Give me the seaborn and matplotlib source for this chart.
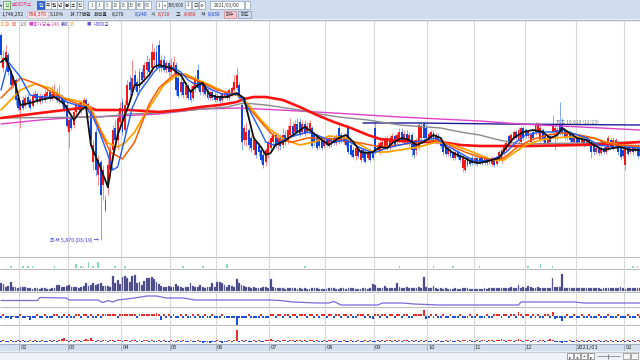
import numpy as np
import pandas as pd
import matplotlib.pyplot as plt
import seaborn as sns
from matplotlib.patches import Rectangle

# daily candles (won), Jan 2020 - Feb 2021
opens = [12020, 11030, 11210, 11420, 10910, 10520, 10670, 10130, 9770, 10070,
         9890, 10160, 10070, 9890, 10130, 10250, 10010, 10190, 10070, 10190,
         10310, 10100, 10190, 10310, 10070, 10190, 10070, 9920, 9110, 9530,
         9320, 9710, 9950, 9770, 9920, 10070, 9830, 9830, 8210, 9110,
         7820, 8210, 7520, 6770, 7430, 7970, 8570, 9230, 8870, 9410,
         10010, 9170, 9920, 10610, 10310, 10820, 10610, 10430, 10910, 10730,
         10970, 11210, 11030, 11270, 11510, 11720, 11030, 11270, 10970, 11180,
         10910, 11030, 11120, 10730, 10310, 10610, 10220, 10490, 10370, 10130,
         10430, 10970, 10610, 10310, 10550, 10370, 10130, 10310, 10220, 10070,
         10190, 10070, 10190, 10310, 10130, 10250, 10370, 10430, 10520, 9920,
         8870, 8870, 9170, 8930, 8570, 8810, 8690, 8570, 8420, 8210,
         8420, 8630, 8810, 9020, 8720, 8930, 8720, 9020, 8870, 9020,
         9290, 9110, 9350, 9410, 9110, 9350, 9110, 9170, 9230, 9020,
         8990, 8930, 8870, 8690, 8870, 8690, 8810, 8930, 8780, 9230,
         9020, 8810, 8930, 9260, 8720, 8570, 8390, 8630, 8270, 8570,
         8510, 8330, 8570, 8480, 9230, 8570, 8510, 8630, 8690, 8690,
         8630, 8810, 8990, 8810, 8870, 9110, 8870, 9050, 8810, 9020,
         8810, 8570, 8660, 8930, 9350, 9230, 8930, 8930, 9080, 8870,
         8990, 8870, 8750, 8630, 8450, 8570, 8510, 8330, 8510, 8420,
         8030, 7970, 8330, 8270, 8330, 8180, 8330, 8330, 8330, 8180,
         8330, 8210, 8150, 8270, 8150, 8270, 8270, 8510, 8570, 8990,
         8810, 8930, 9110, 8870, 8810, 9230, 9170, 8990, 8810, 9110,
         9110, 9110, 8870, 9170, 9020, 8780, 8990, 9110, 9110, 9020,
         9350, 9320, 9170, 8930, 9110, 8990, 8810, 8930, 8930, 8780,
         8900, 8750, 8870, 8810, 8690, 8510, 8630, 8480, 8630, 8510,
         8630, 8870, 8630, 8690, 8810, 8630, 8570, 8120, 8690, 8510,
         8690, 8570, 8720, 8390]
closes = [11420, 11330, 11510, 10910, 10520, 10730, 10070, 9830, 9950, 9830,
          10130, 9950, 9830, 10220, 10250, 10010, 10190, 10070, 10250, 10310,
          10100, 10250, 10310, 10070, 10220, 9980, 9770, 9290, 9470, 9230,
          9710, 9920, 9770, 10010, 10070, 9890, 9950, 8870, 8720, 7970,
          8270, 7220, 7970, 7070, 8120, 8570, 9170, 8870, 9530, 9830,
          9110, 9920, 10520, 10370, 10730, 10520, 10310, 10910, 10670, 11120,
          11210, 10910, 11510, 11510, 11030, 11030, 11270, 10970, 11180, 10910,
          11120, 11210, 10370, 10190, 10610, 10220, 10490, 10130, 10070, 10490,
          10670, 10430, 10310, 10550, 10250, 10130, 10310, 10130, 10070, 10190,
          10040, 10250, 10310, 10130, 10370, 10430, 10610, 10820, 10130, 8810,
          9230, 9110, 8720, 8630, 8870, 8420, 8510, 8270, 8120, 8570,
          8810, 8930, 9020, 8720, 8930, 8690, 9020, 8810, 9170, 9290,
          9050, 9350, 9110, 9020, 9350, 9050, 9290, 9380, 8690, 8810,
          8630, 8690, 8630, 8870, 8720, 8930, 8930, 8780, 8990, 8810,
          8840, 8960, 8720, 8510, 8420, 8360, 8630, 8390, 8570, 8330,
          8210, 8510, 8270, 8330, 8510, 8720, 8780, 8810, 8870, 8930,
          8930, 8990, 8720, 9020, 9110, 8870, 9050, 8810, 9020, 8570,
          8420, 8870, 9320, 9290, 8930, 8930, 9050, 9110, 8870, 9020,
          8810, 8690, 8510, 8450, 8630, 8390, 8330, 8510, 8360, 8270,
          8360, 8270, 8120, 8150, 8180, 8330, 8150, 8210, 8180, 8330,
          8180, 8300, 8330, 8120, 8300, 8510, 8570, 8720, 8780, 8780,
          9020, 9110, 8930, 9170, 9230, 8930, 8990, 9110, 9020, 8930,
          9320, 9320, 9230, 8870, 8780, 8990, 8810, 9350, 9230, 9170,
          9110, 9080, 8930, 9110, 8870, 8810, 8930, 8780, 8810, 8900,
          8720, 8870, 8750, 8510, 8510, 8630, 8480, 8630, 8510, 8660,
          8930, 8690, 8870, 8870, 8510, 8360, 8390, 8690, 8450, 8690,
          8510, 8720, 8390, 8570]
highs = [12080, 11570, 11720, 11510, 10970, 10820, 10730, 10220, 10070, 10190,
         10220, 10250, 10130, 10310, 10370, 10310, 10280, 10250, 10370, 10430,
         10370, 10490, 10550, 10430, 10520, 10250, 10130, 10010, 9530, 9620,
         9770, 9980, 10070, 10070, 10160, 10130, 10010, 9920, 8870, 9230,
         8420, 8270, 8120, 7220, 8270, 8720, 9320, 9470, 9710, 10010,
         10130, 10070, 10670, 10820, 11270, 10970, 10730, 11030, 11030, 11210,
         11420, 11330, 11780, 11630, 11720, 11870, 11420, 11420, 11270, 11270,
         11330, 11390, 11210, 10850, 10730, 10730, 10610, 10550, 10520, 10610,
         10820, 11150, 10670, 10670, 10610, 10430, 10370, 10370, 10310, 10280,
         10250, 10310, 10370, 10370, 10430, 10490, 10820, 11060, 10610, 10010,
         9320, 9410, 9230, 9020, 8990, 8870, 8810, 8690, 8570, 8630,
         8870, 9020, 9170, 9110, 9080, 9050, 9230, 9170, 9320, 9530,
         9410, 9470, 9530, 9530, 9470, 9470, 9410, 9470, 9290, 9110,
         9080, 9020, 8960, 8930, 8930, 8990, 9020, 9020, 9050, 9380,
         9110, 9050, 8990, 9320, 8780, 8660, 8690, 8690, 8660, 8630,
         8570, 8570, 8630, 8570, 9410, 8810, 8870, 8930, 8990, 9020,
         9020, 9080, 9050, 9110, 9230, 9230, 9170, 9170, 9110, 9110,
         8870, 8930, 9410, 9380, 9410, 9350, 9110, 9170, 9170, 9080,
         9080, 8930, 8810, 8720, 8690, 8630, 8570, 8570, 8570, 8480,
         8420, 8360, 8390, 8360, 8420, 8390, 8390, 8390, 8390, 8390,
         8390, 8360, 8390, 8360, 8360, 8570, 8630, 8780, 8870, 9050,
         9080, 9170, 9170, 9260, 9290, 9290, 9230, 9170, 9080, 9170,
         9410, 9410, 9350, 9230, 9080, 9050, 9050, 9620, 9320, 9260,
         10010, 9530, 9230, 9170, 9170, 9050, 8990, 8990, 8990, 8960,
         8960, 8930, 8930, 8870, 8750, 8690, 8690, 8690, 8690, 8720,
         9020, 8930, 8960, 8930, 8870, 8720, 8660, 8780, 8750, 8750,
         8750, 8780, 8780, 8630]
lows = [11330, 10910, 10970, 10820, 10370, 10430, 9920, 9770, 9230, 9770,
        9830, 9890, 9770, 9830, 10070, 9950, 9950, 9980, 10010, 10130,
        10040, 10070, 10130, 10010, 9950, 9890, 9710, 9230, 8630, 9170,
        9230, 9620, 9710, 9650, 9830, 9770, 9710, 8630, 7970, 7790,
        7520, 5870, 7070, 6710, 7220, 7730, 8270, 8720, 8570, 9230,
        9020, 9020, 9830, 10220, 10220, 10370, 10220, 10310, 10550, 10610,
        10850, 10790, 10910, 11120, 10970, 10910, 10910, 10910, 10880, 10790,
        10790, 10850, 10220, 10130, 10190, 10130, 10130, 10070, 10010, 10070,
        10310, 10370, 10220, 10220, 10190, 10070, 10070, 10070, 10010, 10010,
        9980, 10010, 10130, 10070, 10070, 10190, 10310, 10370, 10070, 8570,
        8720, 8690, 8570, 8510, 8420, 8330, 8390, 8180, 8030, 8090,
        8330, 8510, 8630, 8630, 8570, 8570, 8630, 8720, 8750, 8930,
        8990, 9020, 9020, 8960, 9020, 8990, 9050, 9110, 8630, 8690,
        8570, 8630, 8570, 8630, 8660, 8630, 8660, 8720, 8720, 8750,
        8780, 8750, 8660, 8450, 8360, 8330, 8270, 8330, 8210, 8270,
        8180, 8270, 8210, 8270, 8450, 8510, 8450, 8570, 8630, 8570,
        8570, 8720, 8660, 8720, 8780, 8810, 8780, 8750, 8690, 8390,
        8330, 8420, 8570, 8870, 8870, 8870, 8870, 8840, 8810, 8780,
        8750, 8630, 8420, 8390, 8390, 8330, 8270, 8270, 8300, 8210,
        7910, 7910, 8060, 8090, 8120, 8120, 8090, 8150, 8120, 8120,
        8120, 8150, 8090, 8060, 8090, 8210, 8180, 8420, 8510, 8720,
        8750, 8870, 8870, 8780, 8750, 8870, 8930, 8930, 8720, 8870,
        9020, 9050, 8810, 8810, 8720, 8690, 8750, 9050, 8570, 8870,
        9020, 9020, 8870, 8870, 8810, 8720, 8720, 8720, 8750, 8720,
        8660, 8690, 8690, 8330, 8420, 8450, 8420, 8420, 8450, 8450,
        8570, 8630, 8570, 8630, 8420, 8270, 8330, 7970, 8390, 8450,
        8420, 8510, 8330, 8330]

# volume, thousand shares
volume = [800, 700, 450, 500, 900, 380, 400, 350, 420, 380,
          400, 300, 280, 250, 300, 260, 230, 280, 300, 250,
          220, 280, 350, 620, 580, 380, 420, 460, 600, 450,
          380, 420, 350, 380, 500, 780, 520, 650, 800, 600,
          700, 820, 550, 480, 520, 420, 1500, 800, 1100, 700,
          1400, 1500, 1300, 950, 1500, 1600, 800, 900, 600, 1000,
          1300, 1300, 1400, 1200, 900, 700, 500, 450, 400, 520,
          450, 380, 700, 500, 400, 350, 380, 420, 800, 550,
          400, 380, 600, 420, 350, 380, 400, 800, 450, 900,
          950, 850, 600, 400, 600, 500, 450, 1200, 800, 650,
          500, 420, 380, 350, 400, 320, 300, 350, 450, 380,
          300, 1200, 450, 350, 300, 280, 320, 250, 300, 280,
          260, 300, 250, 280, 240, 260, 230, 250, 280, 300,
          260, 240, 230, 250, 220, 280, 300, 260, 240, 250,
          320, 280, 250, 300, 280, 260, 240, 250, 230, 260,
          300, 250, 320, 700, 600, 350, 300, 320, 500, 300,
          280, 320, 350, 800, 400, 350, 330, 380, 300, 320,
          300, 350, 400, 300, 1400, 400, 350, 300, 500, 280,
          250, 260, 240, 300, 220, 250, 230, 260, 240, 220,
          280, 300, 260, 240, 250, 230, 220, 240, 250, 260,
          230, 260, 280, 300, 260, 350, 320, 300, 280, 330,
          380, 300, 320, 600, 350, 400, 330, 500, 380, 300,
          330, 360, 300, 320, 280, 300, 350, 1300, 420, 380,
          380, 1700, 350, 300, 320, 280, 300, 320, 260, 300,
          280, 320, 350, 300, 280, 260, 300, 250, 280, 300,
          320, 280, 300, 260, 280, 400, 300, 250, 280, 300,
          280, 320, 260, 300]

# moving averages (index of day, value)
ma5_i = [0, 2, 6, 8, 12, 16, 22, 26, 30, 33, 35, 37, 41, 44, 46, 48, 51, 53, 55, 57,
         59, 61, 63, 65, 70, 74, 78, 81, 83, 86, 89, 93, 97, 100, 102, 104, 107, 109, 111, 113,
         116, 119, 122, 125, 128, 131, 135, 139, 142, 145, 148, 151, 153, 156, 159, 161, 165, 168, 171, 174,
         178, 181, 183, 186, 190, 194, 197, 202, 205, 208, 211, 215, 219, 223, 226, 229, 231, 234, 237, 241,
         244, 248, 252, 255, 259, 263]
ma5 = [11210, 11330, 10520, 9920, 9980, 10070, 10160, 9950, 9470, 9770, 9860, 8720, 8030, 7460, 8330, 9020, 9620, 10010, 10520, 10520,
       10670, 10820, 11060, 11120, 11030, 10820, 10310, 10520, 10580, 10220, 10160, 10160, 10280, 10130, 9530, 8930, 8660, 8420, 8480, 8720,
       8810, 8960, 9110, 9260, 9110, 8930, 8720, 8930, 9020, 8810, 8510, 8480, 8510, 8660, 8630, 8780, 8930, 8870, 8720, 8810,
       9020, 8930, 8660, 8480, 8360, 8210, 8180, 8270, 8330, 8660, 8930, 9110, 9170, 9110, 8930, 9020, 9230, 9080, 8930, 8870,
       8720, 8570, 8630, 8660, 8570, 8570]
ma10_i = [0, 3, 8, 12, 16, 24, 27, 31, 35, 38, 41, 44, 46, 48, 50, 52, 54, 57, 60, 63,
          65, 71, 74, 77, 79, 83, 87, 91, 95, 98, 101, 104, 107, 109, 112, 115, 118, 122, 126, 130,
          137, 142, 148, 153, 159, 164, 170, 175, 179, 183, 189, 194, 197, 202, 208, 212, 216, 222, 227, 231,
          235, 241, 246, 252, 258, 263]
ma10 = [10370, 11210, 10760, 10220, 10160, 10160, 10010, 9920, 9860, 9530, 9020, 8420, 7970, 8060, 8630, 9230, 9830, 10310, 10610, 10910,
        11060, 11030, 10910, 10670, 10580, 10520, 10370, 10250, 10250, 10220, 9920, 9530, 9110, 8810, 8720, 8810, 8930, 9020, 9110, 9020,
        8810, 8870, 8630, 8480, 8630, 8720, 8810, 8870, 8930, 8720, 8480, 8270, 8240, 8270, 8510, 8810, 9020, 9110, 9110, 9170,
        9080, 8930, 8720, 8660, 8660, 8630]
ma20_i = [0, 8, 16, 24, 33, 37, 41, 45, 50, 55, 61, 65, 71, 74, 78, 83, 89, 94, 98, 102,
          107, 111, 115, 120, 126, 131, 140, 148, 156, 164, 172, 181, 186, 192, 197, 202, 207, 212, 218, 225,
          231, 238, 244, 249, 255, 263]
ma20 = [10130, 10730, 10520, 10160, 9920, 9770, 9110, 8510, 8300, 8810, 9950, 10430, 10820, 10850, 10730, 10580, 10370, 10280, 10220, 9830,
        9410, 9080, 8870, 8810, 8930, 8930, 8870, 8780, 8660, 8720, 8810, 8870, 8660, 8480, 8360, 8270, 8330, 8630, 8870, 9020,
        9080, 9020, 8930, 8780, 8720, 8690]
ma60_i = [0, 8, 14, 20, 26, 33, 37, 41, 44, 48, 51, 55, 59, 63, 67, 72, 76, 81, 86, 92,
          98, 102, 107, 111, 117, 123, 129, 135, 142, 148, 153, 159, 164, 172, 179, 186, 192, 197, 202, 207,
          211, 216, 222, 227, 233, 238, 244, 249, 255, 263]
ma60 = [9770, 10370, 10550, 10430, 10130, 10010, 9830, 9170, 8780, 8660, 8780, 9110, 9620, 10070, 10520, 10790, 10850, 10670, 10520, 10310,
        10190, 9920, 9470, 9170, 8870, 8720, 8810, 8990, 8930, 8720, 8510, 8510, 8570, 8660, 8810, 8720, 8570, 8420, 8270, 8270,
        8480, 8720, 8870, 8930, 8960, 8960, 8930, 8810, 8720, 8660]
ma120_i = [0, 16, 33, 35, 39, 53, 65, 74, 82, 90, 97, 100, 104, 109, 116, 123, 130, 137, 144, 151,
           156, 164, 172, 181, 189, 197, 205, 218, 238, 251, 263]
ma120 = [9530, 9680, 9830, 9890, 9770, 9770, 9710, 9770, 9860, 9920, 10010, 10100, 10160, 10160, 10070, 9860, 9620, 9410, 9230, 9020,
         8900, 8840, 8810, 8810, 8720, 8690, 8690, 8690, 8720, 8750, 8810]
ma200_i = [0, 41, 53, 65, 79, 93, 100, 109, 123, 131, 139, 151, 164, 181, 189, 197, 205, 211, 216, 238, 263]
ma200 = [9530, 9560, 9650, 9680, 9770, 9860, 9980, 9920, 9770, 9650, 9560, 9470, 9320, 9230, 9110, 9020, 8870, 8780, 8750, 8780, 8810]
ma240_i = [0, 16, 33, 49, 65, 82, 98, 115, 137, 164, 197, 214, 230, 247, 263]
ma240 = [9350, 9470, 9560, 9590, 9650, 9800, 9830, 9770, 9680, 9560, 9440, 9350, 9290, 9230, 9170]
ma480_i = [149, 172, 205, 263]
ma480 = [9380, 9380, 9350, 9320]

# sub panels
signal_i = [4, 9, 11, 13, 22, 31, 33, 34, 36, 38, 40, 47, 51, 75, 83, 93, 125, 164, 178, 186, 197, 217, 222, 227, 260, 262]
signal_v = [1, 1, 1, 1, 1, 2, 1, 1, 3, 1, 3, 1, 1, 1, 1, 2, 1, 1, 1, 1, 1, 1, 2, 1, 1, 1]
ratio_i = [0, 15, 16, 27, 28, 40, 41, 42, 44, 46, 48, 55, 60, 64, 68, 75, 80, 90, 110, 115,
           120, 130, 135, 137, 140, 155, 157, 165, 170, 180, 200, 213, 214, 236, 240, 263]
ratio_v = [2.9, 2.9, 3.5, 3.4, 3.0, 3.0, 2.7, 2.5, 2.9, 2.6, 3.0, 3.4, 3.8, 3.8, 3.4, 3.4, 3.0, 3.0, 3.0, 2.9,
           2.6, 2.4, 2.4, 2.7, 2.0, 2.0, 2.4, 2.4, 2.2, 2.0, 2.0, 2.0, 2.6, 2.6, 2.4, 2.4]
net_a = [-2, 2, -2, -2, -3, -1, -2, -2, 2, -2, -2, -1, -4, -2, -2, 2, -2, -2, 2, -2,
         -2, -2, 2, 2, -2, -2, 2, -2, 2, -2, -2, 2, 2, -2, 2, 2, -2, 2, -2, -2,
         2, -2, 2, 2, 2, 2, 2, 2, -2, 2, 2, 2, 2, 2, 2, 2, -2, 2, 2, 2,
         2, 2, 2, 2, 3, 2, -4, 2, -2, 2, -2, 2, -2, -2, 2, -2, 2, -2, -2, 2,
         -2, 2, -2, -2, 2, -2, -2, 2, -2, -2, -2, 2, -2, -2, -2, -2, -2, -9, -2, -2,
         -2, -2, 2, -2, -2, -2, -2, 2, -2, -2, -2, 2, 2, -2, 2, 2, -2, 2, 2, -2,
         2, 2, -2, 2, 2, 2, -2, 2, 2, -2, 2, -2, 2, 2, -2, 2, 2, -2, 2, 2,
         -2, 2, 2, -2, 2, -2, -2, 2, 2, 2, -2, 2, -2, -3, 2, 2, -2, 2, 2, -2,
         2, 2, -2, 2, 2, -2, 2, 2, -2, -2, 2, 2, 2, 2, 6, -3, -2, 2, -2, 2,
         -2, -2, 2, -2, -2, 2, -2, -2, -2, 2, -2, -2, -2, 2, -2, -2, 2, -2, -2, -2,
         2, -2, -2, 2, 2, 2, -2, 2, 2, -2, 2, 2, -2, 4, 2, -2, 2, 2, -2, 2,
         -2, 2, -2, -2, 2, 2, -2, 4, -3, -2, -2, -5, -2, 2, -2, -2, 2, -2, -2, 2,
         -2, -2, 2, -2, -2, -2, 2, -2, -2, -2, 2, -2, -2, -2, 2, -2, -2, -2, 2, -2,
         -2, -2, 2, -2]
net_b = [-1, 1, -1, -1, 1, -1, -1, 1, -1, 1, -1, -1, 1, -1, 1, -1, -1, 1, -1, -1,
         1, -1, 1, -1, 1, 2, 3, 1, -1, 1, -1, 1, 1, -1, 1, 2, 1, 3, 1, -1,
         1, -1, 1, 1, -1, 1, 1, -1, 1, 1, -1, 1, 1, -1, 1, 1, -1, 1, -1, 1,
         1, -1, 1, -1, -1, 1, -1, 1, -1, -1, 1, -1, -1, 1, -1, 1, -1, -1, 1, -1,
         -1, 1, -1, -2, -1, -1, -2, -1, -1, 1, -1, -2, -1, -1, 1, -1, 1, 11, -1, 1,
         -1, 1, -1, -1, 1, -1, 1, -1, -1, 1, 1, 2, 1, -1, 1, -1, 1, 1, -1, 1,
         1, -1, 1, 1, -1, 1, -1, 1, 1, -1, 1, -1, -1, 1, -1, 1, 1, -1, 1, -1,
         -1, 1, -1, -1, 1, -1, -1, 1, -1, -1, 1, -1, 1, -1, -1, 1, -1, 1, -1, 1,
         1, -1, 1, -1, 1, -1, 1, 1, -1, 1, -1, 1, -1, 1, -1, 1, -1, -1, 1, -1,
         1, -1, -1, 1, -1, 1, -1, -1, 1, -1, 1, 1, -1, 1, -1, -1, 1, -1, 1, 1,
         -1, 1, 1, -1, 1, 1, 2, 1, -1, 1, 1, -1, 1, 2, 1, -1, 1, 1, -1, 1,
         1, -1, 1, 1, -1, 1, 2, 1, -1, -1, -1, -2, -1, -1, 1, -1, -1, 1, -1, 1,
         -1, -1, 1, -1, 1, -1, 1, -1, -1, 1, -1, 1, -1, 1, -1, -1, 1, -1, 1, -1,
         1, -1, 1, -1]

month_labels = ["02", "03", "04", "05", "06", "07", "08", "09", "10", "11", "12", "2021/01", "02"]
month_start = [8, 28, 50, 70, 89, 111, 134, 154, 176, 195, 216, 237, 257]

sns.set_style("white")
plt.rcParams['font.family'] = ['Noto Sans CJK KR', 'DejaVu Sans']

W, H = 640, 360
fig = plt.figure(figsize=(6.4, 3.6), dpi=100)
fig.patch.set_facecolor('white')


def rect(y0, y1, x0=0, x1=W):
    return [x0 / W, 1 - y1 / H, (x1 - x0) / W, (y1 - y0) / H]


def overlay(z):
    a = fig.add_axes([0, 0, 1, 1], zorder=z)
    a.set_xlim(0, W)
    a.set_ylim(H, 0)
    a.axis('off')
    a.patch.set_alpha(0)
    return a


bg = overlay(0)
top = overlay(20)

n = len(closes)
idx = np.arange(n)
xlim = (-0.41, 263.0)
grid_x = np.array(month_start) - 0.5


def panel(y0, y1, ylim, grid=True):
    a = fig.add_axes(rect(y0, y1), zorder=5)
    a.patch.set_alpha(0)
    if grid:
        for g in grid_x:
            a.axvline(g, color='#d8d8d8', lw=0.8, zorder=0)
    a.set_xlim(*xlim)
    a.set_ylim(*ylim)
    a.set_xticks([])
    a.set_yticks([])
    a.set_xlabel('')
    a.set_ylabel('')
    for s in a.spines.values():
        s.set_visible(False)
    return a


# ---- price panel
ax = panel(20, 257, (5360, 12470))
o = np.array(opens)
c = np.array(closes)
hi = np.maximum(np.array(highs), np.maximum(o, c))
lo = np.minimum(np.array(lows), np.minimum(o, c))
up = c >= o
ax.vlines(idx, lo, hi, colors=np.where(up, '#ff7474', '#6e98ff'), lw=0.6, zorder=2)
ax.bar(idx, np.maximum(np.abs(c - o), 30), bottom=np.minimum(o, c), width=0.8,
       color=np.where(up, '#f21818', '#1046dc'), linewidth=0, zorder=3)

lines = [(ma480_i, ma480, '#1c1c96', 1.0),
         (ma240_i, ma240, '#e040c8', 1.0),
         (ma200_i, ma200, '#8a8a8a', 1.0),
         (ma120_i, ma120, '#ff1010', 1.9),
         (ma60_i, ma60, '#ffa200', 1.3),
         (ma20_i, ma20, '#ff5a00', 1.1),
         (ma10_i, ma10, '#1e5cff', 1.0),
         (ma5_i, ma5, '#101010', 1.3)]
for xi, yv, col, lw in lines:
    sns.lineplot(x=xi, y=yv, ax=ax, color=col, linewidth=lw, legend=False, zorder=4)
ax.set_xlim(*xlim)
ax.set_ylim(5360, 12470)
ax.set_xlabel('')
ax.set_ylabel('')

ax.text(40.2, 5870, "최저 5,870 (03/19) →", ha='right', va='center', fontsize=3.8, color='#3535e6', zorder=6)
ax.text(228.5, 9410, "최고 10,010 (12/23)", ha='left', va='center', fontsize=3.5, color='#6d6d6d', zorder=6)

# ---- signal bars
axa = panel(257, 269, (-0.5, 5.5))
axa.bar(signal_i, signal_v, width=0.7, color='#84d9b6', linewidth=0)

# ---- volume
axb = panel(269, 292, (-100, 2200))
axb.bar(idx, volume, width=0.75, color='#3f3f7e', edgecolor='#8585bd', linewidth=0.25)

# ---- ratio line
axc = panel(292, 307, (1.6, 4.6))
sns.lineplot(x=ratio_i, y=ratio_v, ax=axc, color='#7b69d8', linewidth=0.9, legend=False)
axc.set_xlim(*xlim)
axc.set_ylim(1.6, 4.6)
axc.set_xlabel('')
axc.set_ylabel('')

# ---- net buying histograms
for vals, (y0, y1), yl in [(net_a, (307, 325), (-9, 9)), (net_b, (325, 344), (-3, 16))]:
    a = panel(y0, y1, yl)
    v = np.array(vals)
    a.bar(idx, v, width=0.8, color=np.where(v > 0, '#ea2a2a', '#1f4de0'), linewidth=0)

# ---- separators and bottom bands
bg.add_patch(Rectangle((0, 20), W, 324, facecolor='white', lw=0))
bg.hlines([257, 269, 292, 307, 325], 0, W, color='#bdbdbd', lw=0.8)
bg.add_patch(Rectangle((0, 344), W, 7, facecolor='#d4e0f0', lw=0))
bg.hlines([344], 0, W, color='#a6b2c3', lw=0.8)
bg.add_patch(Rectangle((0, 351), W, 9, facecolor='#eef1f5', lw=0))
bg.hlines([351.5], 0, W, color='#c4c9d2', lw=0.8)

axx = panel(344, 351, (0, 1), grid=False)
axx.vlines(grid_x, 0, 1, color='#a5b2c5', lw=0.7)
for m, lab in zip(month_start, month_labels):
    axx.text(m, 0.45, lab, ha='left', va='center', fontsize=4.2, color='#333333')

# bottom right controls
for bx, sym in zip([567, 574, 581, 588], ['▸', '◂', '▪', '▸']):
    top.add_patch(Rectangle((bx, 353), 6, 6, facecolor='white', edgecolor='#7a7a7a', lw=0.5))
    top.text(bx + 3, 356.2, sym, ha='center', va='center', fontsize=3.2, color='#222222')
top.hlines([356], 597, 620, color='#888888', lw=0.6)
top.vlines([608], 353.5, 358.5, color='#888888', lw=0.8)
for bx in [623, 631]:
    top.add_patch(Rectangle((bx, 353), 7, 6, facecolor='#f4f4f4', edgecolor='#8a8a8a', lw=0.5))

# ---- header
top.add_patch(Rectangle((0, 0), W, 19, facecolor='#cfdcee', lw=0))
top.hlines([19.5], 0, W, color='#aab4c2', lw=1.0)


def btn(x, w, label, fc='white', ec='#8e9db5', tc='#333333', fs=3.5, y=1.2, h=7.6):
    top.add_patch(Rectangle((x, y), w, h, facecolor=fc, edgecolor=ec, lw=0.5))
    top.text(x + w / 2, y + h / 2 + 0.2, label, ha='center', va='center', fontsize=fs, color=tc)


def txt(x, y, s, col='#222222', fs=3.6, **kw):
    top.text(x, y, s, ha='left', va='center', fontsize=fs, color=col, **kw)


txt(0, 5, "▾", fs=3)
btn(3, 7, "신", fc='#e4f3dc', ec='#4d8a3e', tc='#2d7a2d', fs=3.4)
txt(11.5, 5, "브이티지엠", col='#d0306a', fs=3.1)
btn(37, 7, "일", fc='#2f6ed2', ec='#1d4e9e', tc='white')
for bx, lab in zip([45, 51, 57, 64, 70, 77], ["주", "월", "년", "분", "초", "틱"]):
    btn(bx, 6, lab, fs=3.3)
for bx, lab in zip([88, 96, 104, 112, 120, 128, 136, 144], ["1", "3", "5", "10", "15", "30", "45", "60"]):
    btn(bx, 7, lab, fs=3.2, tc='#555555')
btn(156, 6, "1", fs=3.2)
btn(162, 5, "▾", fs=2.8)
txt(168, 5, "385/600", fs=3.1, col='#333333')
for bx, lab in zip([185, 192, 199], ["↕", "日", "⚙"]):
    btn(bx, 6, lab, fs=3.2)
btn(210, 34, "2021/03/00", fs=3.5)
btn(245, 5, "", fs=3)

txt(2, 14.6, "1,746,252")
top.add_patch(Rectangle((27, 10.6), 21, 7.8, facecolor='#eee4ea', edgecolor='#c8b8c0', lw=0.4))
txt(28.5, 14.6, "658,370", col='#e0201e')
txt(50, 14.6, "5.10%")
txt(70, 14.6, "14.77백만")
txt(94, 14.6, "회전율")
txt(112, 14.6, "8,270")
txt(135, 14.6, "8,240", col='#1a3fe0')
txt(151, 14.6, "시")
txt(158, 14.6, "8,710", col='#e0201e')
txt(176, 14.6, "고")
txt(184, 14.6, "8,960", col='#e0201e')
txt(201, 14.6, "저")
txt(208, 14.6, "8,830", col='#1a3fe0')
btn(224, 12, "매수", fc='#f5c9ce', ec='#c48a92', y=10.6, h=7.8, fs=3.3)
btn(238, 13, "매도", fc='#cddcf3', ec='#8797b5', y=10.6, h=7.8, fs=3.3)

# legend row
legend_items = [(-0.3, "10", '#f0a400'), (5, "20", '#ff5a00'), (12, "60", '#e02020'), (20, "120", '#7a7a7a'),
                (29, "■", '#e040c8'), (33, "종가 단순 240", '#d63cc0'), (61, "480", '#1c1c96'),
                (70, "15", '#ff9a00'), (87, "■", '#6a5acd'), (93, "거래대금", '#4b4bd0')]
for lx, s, col in legend_items:
    txt(lx, 24.2, s, col=col, fs=3.2)

fig.savefig("out.png", dpi=100)
